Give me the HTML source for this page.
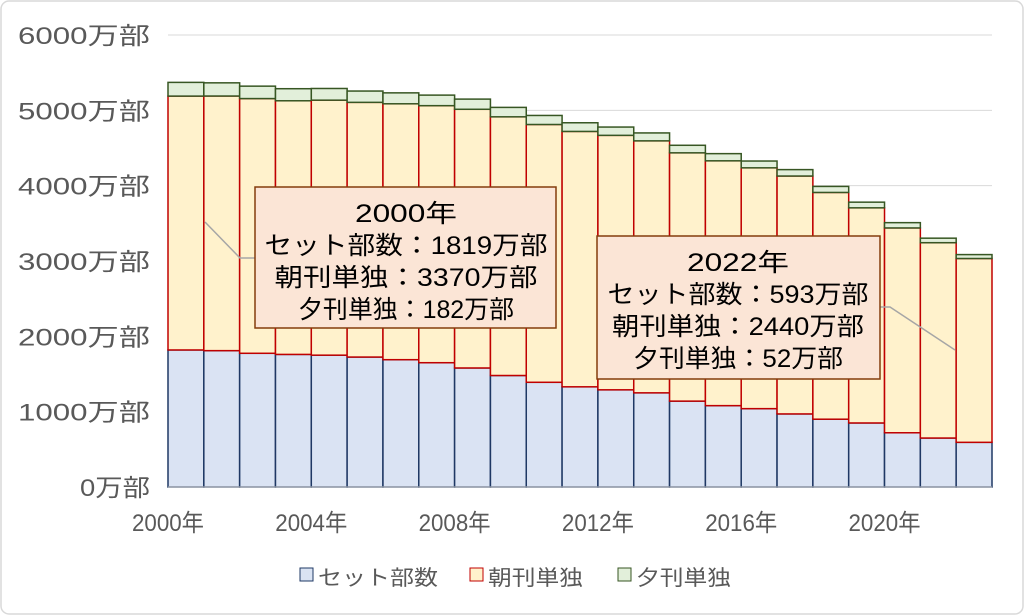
<!DOCTYPE html>
<html><head><meta charset="utf-8"><style>
body{margin:0;background:#fff;}
svg{display:block;font-family:"Liberation Sans","Noto Sans CJK JP",sans-serif;}
</style></head><body>
<svg id="c" width="1024" height="615" viewBox="0 0 1024 615" xmlns="http://www.w3.org/2000/svg">
<rect x="1" y="1" width="1022" height="613" rx="8" fill="#fff" stroke="#d9d9d9" stroke-width="1.5"/>
<g id="grid"></g>
<g id="bars"></g>
<g id="labels" font-size="24" fill="#595959"></g>
<line x1="168" y1="487" x2="992" y2="487" stroke="#bfbfbf" stroke-width="1"/>
<polyline points="255,258 240,258 205,222" fill="none" stroke="#a6a6a6" stroke-width="1.5"/>
<rect x="255" y="187" width="301" height="141" fill="#fbe5d6" stroke="#843c0c" stroke-width="1.5"/>
<g font-size="25" fill="#000" text-anchor="middle" lengthAdjust="spacingAndGlyphs">
<text x="406" y="222" textLength="102" lengthAdjust="spacingAndGlyphs">2000年</text>
<text x="406" y="254" textLength="283" lengthAdjust="spacingAndGlyphs">セット部数：1819万部</text>
<text x="406" y="286" textLength="263" lengthAdjust="spacingAndGlyphs">朝刊単独：3370万部</text>
<text x="406" y="318" textLength="216" lengthAdjust="spacingAndGlyphs">夕刊単独：182万部</text>
</g>
<polyline points="880,307 890,307 955,350" fill="none" stroke="#a6a6a6" stroke-width="1.5"/>
<rect x="597" y="236" width="283" height="143" fill="#fbe5d6" stroke="#843c0c" stroke-width="1.5"/>
<g font-size="25" fill="#000" text-anchor="middle">
<text x="738" y="271" textLength="102" lengthAdjust="spacingAndGlyphs">2022年</text>
<text x="738" y="303" textLength="261" lengthAdjust="spacingAndGlyphs">セット部数：593万部</text>
<text x="738" y="335" textLength="252" lengthAdjust="spacingAndGlyphs">朝刊単独：2440万部</text>
<text x="738" y="367" textLength="210" lengthAdjust="spacingAndGlyphs">夕刊単独：52万部</text>
</g>
<g font-size="21" fill="#595959">
<rect x="300" y="568" width="13" height="13" fill="#dae3f3" stroke="#1f3864"/>
<text x="318" y="585" textLength="120" lengthAdjust="spacingAndGlyphs">セット部数</text>
<rect x="470" y="568" width="13" height="13" fill="#fff2cc" stroke="#c00000"/>
<text x="488" y="585" textLength="95" lengthAdjust="spacingAndGlyphs">朝刊単独</text>
<rect x="618" y="568" width="13" height="13" fill="#e2efda" stroke="#375623"/>
<text x="636" y="585" textLength="95" lengthAdjust="spacingAndGlyphs">夕刊単独</text>
</g>
</svg>
<script>
var ns="http://www.w3.org/2000/svg";
function el(p,t,a,txt){var e=document.createElementNS(ns,t);for(var k in a)e.setAttribute(k,a[k]);if(txt)e.textContent=txt;document.getElementById(p).appendChild(e);}
var y0=487,k=452/6000,x0=168,bw=(992-168)/23;
for(var i=0;i<=6;i++){var y=y0-i*1000*k;
 if(i>0)el("grid","line",{x1:168,x2:992,y1:y,y2:y,stroke:"#d9d9d9","stroke-width":1});
 el("labels","text",{x:150,y:y+9,"text-anchor":"end",textLength:(i?132:70),lengthAdjust:"spacingAndGlyphs"},(i*1000)+"万部");}
var set=[1819,1810,1775,1760,1750,1725,1690,1650,1580,1480,1390,1330,1290,1250,1140,1080,1040,970,900,850,720,650,593];
var tot=[5371,5365,5321,5287,5290,5256,5232,5202,5149,5039,4932,4835,4778,4700,4536,4425,4327,4213,3990,3781,3509,3303,3085];
var eve=[182,175,165,160,155,150,145,140,135,125,120,115,110,105,100,95,90,85,80,75,70,60,52];
for(var j=0;j<23;j++){var x=x0+j*bw;
 var a=set[j],b=tot[j]-eve[j],c=tot[j];
 el("bars","rect",{x:x,y:y0-a*k,width:bw,height:a*k,fill:"#dae3f3",stroke:"#1f3864","stroke-width":1.5});
 el("bars","rect",{x:x,y:y0-b*k,width:bw,height:(b-a)*k,fill:"#fff2cc",stroke:"#c00000","stroke-width":1.5});
 el("bars","rect",{x:x,y:y0-c*k,width:bw,height:(c-b)*k,fill:"#e2efda",stroke:"#375623","stroke-width":1.5});}
for(var j=0;j<=20;j+=4){el("labels","text",{x:x0+j*bw,y:531,"text-anchor":"middle",textLength:72,lengthAdjust:"spacingAndGlyphs"},(2000+j)+"年");}
</script>
</body></html>
